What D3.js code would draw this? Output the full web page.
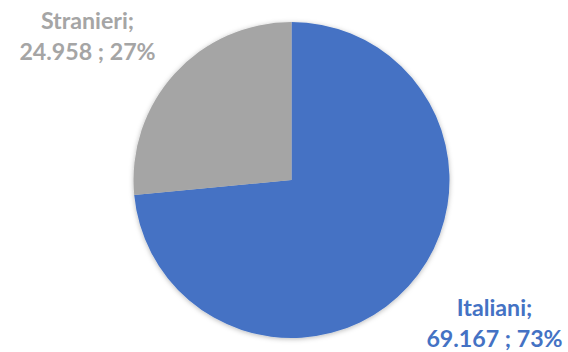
<!DOCTYPE html>
<html>
<head>
<meta charset="utf-8">
<script src="https://cdn.jsdelivr.net/npm/d3@7"></script>
<style>
  html, body { margin: 0; padding: 0; background: #fff; }
  svg { display: block; }
</style>
</head>
<body>
<svg id="chart" width="568" height="352"></svg>
<script>
// Residents by citizenship
const categories = ["Italiani", "Stranieri"];
const values = [69167, 24958];
const colors = ["#4472C4", "#A5A5A5"];

const width = 568, height = 352;
const cx = 291.5, cy = 180, radius = 158;
const fontSize = 23.2, lineGap = 31;
// label block centres relative to the pie centre
const labelOffsets = [[203, 143], [-204, -143.5]];

const it = d3.formatLocale({ decimal: ",", thousands: ".", grouping: [3], currency: ["€", ""] });
const fmtNum = it.format(",d");
const total = d3.sum(values);

const data = categories.map((c, i) => ({ name: c, value: values[i], color: colors[i], off: labelOffsets[i] }));

const svg = d3.select("#chart");

const defs = svg.append("defs");
const filt = defs.append("filter").attr("id", "pieShadow")
  .attr("x", "-10%").attr("y", "-10%").attr("width", "120%").attr("height", "120%");
filt.append("feDropShadow")
  .attr("dx", 0).attr("dy", 1).attr("stdDeviation", 2.5)
  .attr("flood-color", "#000").attr("flood-opacity", 0.28);

const pie = d3.pie().sort(null).value(d => d.value);
const arc = d3.arc().innerRadius(0).outerRadius(radius);

const g = svg.append("g").attr("transform", `translate(${cx},${cy})`);

g.append("g").attr("filter", "url(#pieShadow)")
  .selectAll("path")
  .data(pie(data))
  .join("path")
  .attr("d", arc)
  .attr("fill", d => d.data.color);

const labels = g.selectAll("text.lbl")
  .data(pie(data))
  .join("text")
  .attr("class", "lbl")
  .attr("text-anchor", "middle")
  .attr("font-family", "Lato, 'Open Sans', sans-serif")
  .attr("font-weight", "bold")
  .attr("font-size", fontSize)
  .attr("fill", d => d.data.color)
  .attr("transform", d => `translate(${d.data.off[0]},${d.data.off[1]})`);

labels.append("tspan")
  .attr("x", 0)
  .attr("y", -lineGap / 2 + fontSize * 0.36)
  .text(d => d.data.name + ";");

labels.append("tspan")
  .attr("x", 0)
  .attr("y", lineGap / 2 + fontSize * 0.36)
  .text(d => fmtNum(d.data.value) + " ; " + Math.round(d.data.value / total * 100) + "%");
</script>
</body>
</html>
